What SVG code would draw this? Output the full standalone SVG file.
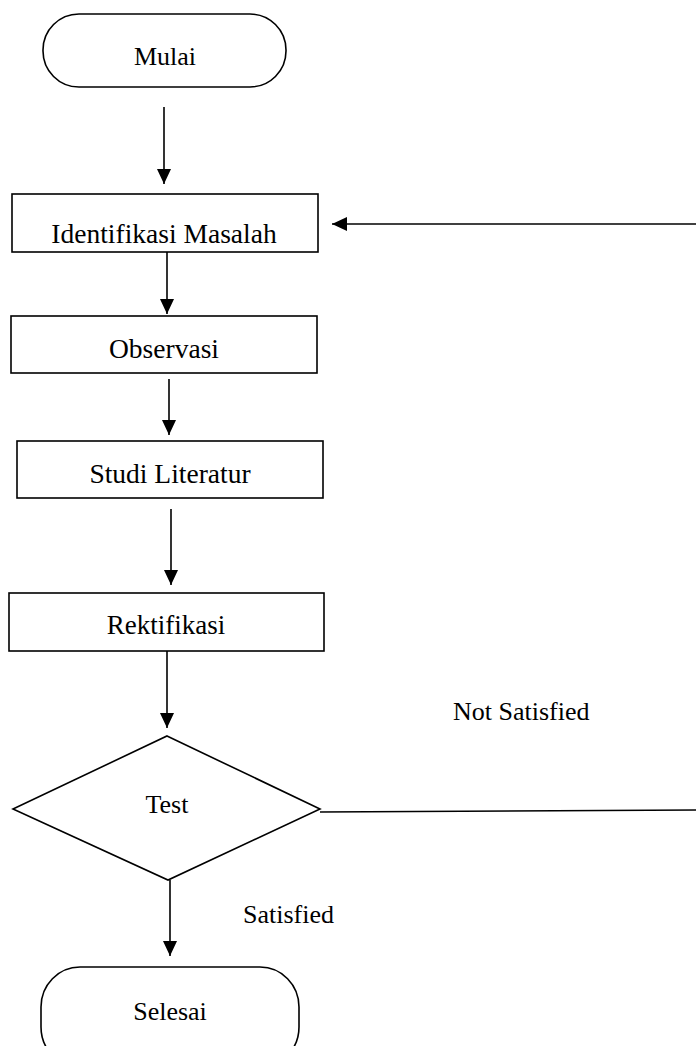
<svg xmlns="http://www.w3.org/2000/svg" width="696" height="1046" viewBox="0 0 696 1046">
<style>
.shape{fill:#fff;stroke:#000;stroke-width:1.6}
.lbl{font-family:"Liberation Serif","Times New Roman",serif;font-size:26px;fill:#000}
.big{font-size:27.5px}
.mid{text-anchor:middle}
.conn{fill:none;stroke:#000;stroke-width:1.6}
</style>
<defs>
<marker id="ah" markerUnits="userSpaceOnUse" markerWidth="16" markerHeight="16" viewBox="0 0 16 16" refX="15" refY="8" orient="auto">
<path d="M0,1 L15,8 L0,15 Z" fill="#000"/>
</marker>
</defs>
<rect width="696" height="1046" fill="#fff"/>
<g id="mulai">
<rect class="shape" x="43" y="14" width="243" height="73" rx="36" ry="36"/>
<text class="lbl mid" x="165" y="65">Mulai</text>
</g>
<g id="identifikasi">
<rect class="shape" x="12" y="194" width="306" height="58"/>
<text class="lbl big mid" x="164" y="243">Identifikasi Masalah</text>
</g>
<g id="observasi">
<rect class="shape" x="11" y="316" width="306" height="57"/>
<text class="lbl big mid" x="164" y="358">Observasi</text>
</g>
<g id="studi">
<rect class="shape" x="17" y="441" width="306" height="57"/>
<text class="lbl big mid" x="170" y="483">Studi Literatur</text>
</g>
<g id="rektifikasi">
<rect class="shape" x="9" y="593" width="315" height="58"/>
<text class="lbl mid" x="166" y="634" style="font-size:27px">Rektifikasi</text>
</g>
<g id="test">
<polygon class="shape" points="167,736 320,809 168,880 13,809"/>
<text class="lbl mid" x="167" y="813">Test</text>
</g>
<g id="selesai">
<rect class="shape" x="41" y="967" width="258" height="100" rx="39" ry="40"/>
<text class="lbl mid" x="170" y="1020">Selesai</text>
</g>
<g id="connectors">
<line class="conn" x1="164" y1="107" x2="164" y2="184" marker-end="url(#ah)"/>
<line class="conn" x1="167" y1="252" x2="167" y2="314" marker-end="url(#ah)"/>
<line class="conn" x1="169" y1="379" x2="169" y2="435" marker-end="url(#ah)"/>
<line class="conn" x1="171" y1="509" x2="171" y2="585" marker-end="url(#ah)"/>
<line class="conn" x1="167" y1="651" x2="167" y2="728" marker-end="url(#ah)"/>
<line class="conn" x1="170" y1="880" x2="170" y2="956" marker-end="url(#ah)"/>
<line class="conn" x1="320" y1="812" x2="696" y2="810"/>
<line class="conn" x1="696" y1="224" x2="332" y2="224" marker-end="url(#ah)"/>
<text class="lbl" x="453" y="720">Not Satisfied</text>
<text class="lbl" x="243" y="923">Satisfied</text>
</g>
</svg>
